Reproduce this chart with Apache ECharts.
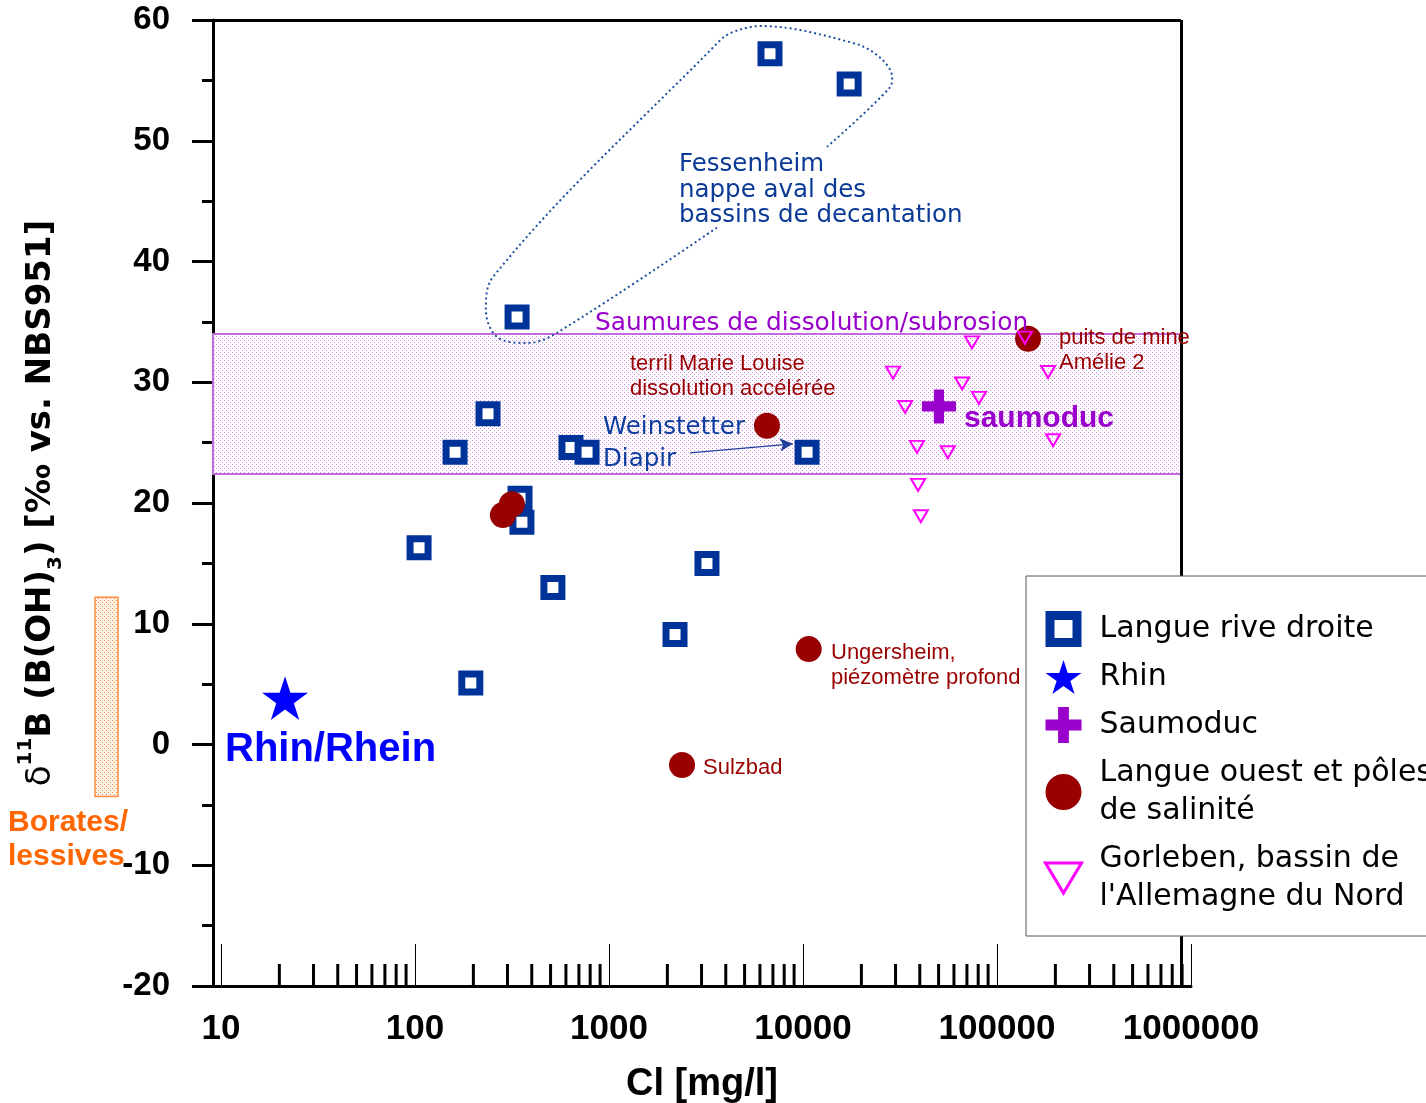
<!DOCTYPE html>
<html>
<head>
<meta charset="utf-8">
<script src="https://cdn.jsdelivr.net/npm/echarts@6/dist/echarts.min.js"></script>
<style>
html, body { margin: 0; padding: 0; background: #fff; }
#chart { width: 1426px; height: 1103px; }
</style>
</head>
<body>
<div id="chart"></div>
<script>
var chart = echarts.init(document.getElementById('chart'));

// data: [Cl mg/l, d11B permil]
var langueRiveDroite = [
    [6760, 57.2], [17300, 54.7], [336, 35.4], [238, 27.4], [161, 24.2],
    [637, 24.6], [771, 24.2], [10500, 24.2], [348, 20.4], [356, 18.4],
    [105, 16.3], [514, 13.0], [3200, 15.0], [2190, 9.1], [194, 5.1]
];
var rhin = [[21.4, 3.85]];
var saumoduc = [[50200, 28.0]];
var langueOuest = [
    [6520, 26.4], [316, 19.9], [284, 19.0], [10700, 7.9], [2380, -1.7], [144600, 33.6]
];
var gorleben = [
    [74300, 33.3], [139300, 33.7], [29100, 30.8], [183300, 30.85], [66100, 29.9],
    [80700, 28.7], [33600, 27.95], [194500, 25.2], [38700, 24.65], [55800, 24.2],
    [39200, 21.5], [40500, 18.9]
];
var saumuresBand = [22.4, 34.0];
var boratesRange = [-4.3, 12.2];
var fessenheimOutline = [
    [3600, 42.8], [540, 34.1], [378, 33.25], [265, 33.75], [232, 36.0], [252, 38.7],
    [3730, 58.3], [4350, 59.0], [6000, 59.5], [18100, 58.1], [24900, 56.9],
    [28800, 55.25], [28000, 54.4], [13300, 49.5]
];
var weinstetterArrow = [[2616, 24.15], [8870, 24.9]];
var xTickLabels = ['10', '100', '1000', '10000', '100000', '1000000'];
var xMin = 9.1, xMax = 1000000, frameRight = 888000;
var yMin = -20, yMax = 60;

var minorTicks = [];
for (var d = 10; d < 1000000; d *= 10) {
    for (var k = 2; k <= 9; k++) minorTicks.push([k * d, yMin]);
}

function dotPattern(bg, dot, step) {
    var c = document.createElement('canvas');
    c.width = step; c.height = step;
    var ctx = c.getContext('2d');
    ctx.fillStyle = bg;
    ctx.fillRect(0, 0, step, step);
    ctx.fillStyle = dot;
    ctx.fillRect(0, 0, 1, 1);
    ctx.fillRect(step / 2, step / 2, 1, 1);
    return c;
}
var bandPattern = dotPattern('#ffffff', '#d98be8', 4);
var boratesPattern = dotPattern('#fff3ea', '#ff8a3d', 4);

var starPath = 'path://M50,0L61.2,34.5L97.6,34.5L68.2,55.9L79.4,90.5L50,69.1L20.6,90.5L31.8,55.9L2.4,34.5L38.8,34.5Z';
var plusPath = 'path://M35,0H65V35H100V65H65V100H35V65H0V35H35Z';
var triPath = 'path://M0,0L36,0L18,30Z';
var framePath = 'path://M0,0H36V36H0Z M9,9V27H27V9Z';

var ARIAL = '"Liberation Sans", Arial, sans-serif';
var VERD = '"DejaVu Sans", Verdana, sans-serif';

function note(text, x, firstY, size, color, family, weight, lh) {
    return {
        type: 'text', x: x, y: firstY + 3 - lh / 2, silent: true, z: 50,
        style: {
            text: text, fill: color, lineHeight: lh,
            font: (weight || 'normal') + ' ' + size + 'px ' + family,
            align: 'left', verticalAlign: 'top'
        }
    };
}

var option = {
    backgroundColor: '#fff',
    animation: false,
    grid: { left: 213, right: 235, top: 20, bottom: 117, containLabel: false, outerBoundsMode: 'none' },
    xAxis: {
        type: 'log', logBase: 10, min: xMin, max: xMax,
        name: 'Cl [mg/l]', nameLocation: 'middle', nameGap: 80,
        nameTextStyle: { fontFamily: ARIAL, fontWeight: 'bold', fontSize: 38, color: '#000' },
        axisLine: { show: true, onZero: false, lineStyle: { color: '#000', width: 3 } },
        axisTick: { show: true, inside: true, length: 42, lineStyle: { color: '#000', width: 1 } },
        minorTick: { show: false },
        splitLine: { show: false },
        axisLabel: {
            margin: 26, color: '#000', fontFamily: ARIAL, fontWeight: 'bold', fontSize: 35,
            formatter: function (v) {
                var lg = Math.log(v) / Math.LN10, r = Math.round(lg);
                return Math.abs(lg - r) < 1e-6 && r >= 1 ? xTickLabels[r - 1] : '';
            }
        }
    },
    yAxis: {
        type: 'value', min: yMin, max: yMax, interval: 10,
        name: '{d|δ}{sup|11}{b|B (B(OH)}{sub|3}{b|) [‰ vs. NBS951]}',
        nameLocation: 'middle', nameRotate: 90, nameGap: 147,
        nameTextStyle: {
            color: '#000',
            rich: {
                d: { fontFamily: VERD, fontSize: 34, lineHeight: 50, color: '#000' },
                b: { fontFamily: VERD, fontWeight: 'bold', fontSize: 34, lineHeight: 50, color: '#000' },
                sup: { fontFamily: VERD, fontWeight: 'bold', fontSize: 20, verticalAlign: 'top', color: '#000' },
                sub: { fontFamily: VERD, fontWeight: 'bold', fontSize: 20, verticalAlign: 'bottom', color: '#000' }
            }
        },
        axisLine: { show: true, onZero: false, lineStyle: { color: '#000', width: 3 } },
        axisTick: { show: true, inside: false, length: 21, lineStyle: { color: '#000', width: 3 } },
        minorTick: { show: true, splitNumber: 2, length: 11, lineStyle: { color: '#000', width: 3 } },
        splitLine: { show: false },
        axisLabel: { margin: 43, color: '#000', fontFamily: ARIAL, fontWeight: 'bold', fontSize: 33 }
    },
    legend: {
        orient: 'vertical', left: 1026, top: 576, z: 100,
        padding: [34, 200, 20, 18],
        itemWidth: 36, itemHeight: 36, itemGap: 10,
        backgroundColor: '#fff', borderColor: '#555', borderWidth: 1,
        selectedMode: false,
        textStyle: { fontFamily: VERD, fontSize: 30, color: '#000', lineHeight: 38, padding: [0, 0, 0, 13] },
        data: [
            { name: 'Langue rive droite', icon: framePath, itemStyle: { color: '#003399', borderWidth: 0 } },
            { name: 'Rhin' },
            { name: 'Saumoduc' },
            { name: 'Langue ouest et pôles\nde salinité' },
            { name: 'Gorleben, bassin de\nl\'Allemagne du Nord', icon: triPath,
              itemStyle: { color: 'rgba(255,255,255,0)', borderColor: '#ff00ff', borderWidth: 3 } }
        ]
    },
    graphic: [
        note('Fessenheim\nnappe aval des\nbassins de decantation', 679, 162, 24.5, '#0a3a96', VERD, 'normal', 25.5),
        note('Saumures de dissolution/subrosion', 595, 321, 24.8, '#9900cc', VERD, 'normal', 28),
        note('terril Marie Louise\ndissolution accélérée', 630, 361, 22, '#990000', ARIAL, 'normal', 25),
        note('Weinstetter\nDiapir', 603, 425, 24.5, '#0d3d9e', VERD, 'normal', 32),
        note('saumoduc', 964, 416, 30, '#9900cc', ARIAL, 'bold', 34),
        note('puits de mine\nAmélie 2', 1059, 335, 22, '#990000', ARIAL, 'normal', 25),
        note('Ungersheim,\npiézomètre profond', 831, 650, 22, '#990000', ARIAL, 'normal', 25),
        note('Sulzbad', 703, 765, 22, '#990000', ARIAL, 'normal', 25),
        note('Rhin/Rhein', 225, 747, 40, '#0000ff', ARIAL, 'bold', 44),
        note('Borates/\nlessives', 8, 820, 30, '#ff6600', ARIAL, 'bold', 34)
    ],
    series: [
        {
            // frame, saturated-brine band
            type: 'scatter', name: 'frame', data: [], clip: false, silent: true, z: 1,
            markArea: {
                silent: true,
                itemStyle: { color: { image: bandPattern, repeat: 'repeat' }, borderColor: '#c46ae0', borderWidth: 2 },
                data: [[{ coord: [xMin, saumuresBand[1]] }, { coord: [frameRight, saumuresBand[0]] }]]
            },
            markLine: {
                silent: true, symbol: 'none', label: { show: false },
                lineStyle: { color: '#000', width: 3, type: 'solid' },
                data: [
                    [{ coord: [xMin, yMax] }, { coord: [frameRight, yMax] }],
                    [{ coord: [frameRight, yMax] }, { coord: [frameRight, yMin] }]
                ]
            }
        },
        {
            type: 'line', name: 'arrow', data: [], clip: false, silent: true, z: 4,
            markLine: {
                silent: true, symbol: ['none', 'arrow'], symbolSize: [10, 13], label: { show: false },
                lineStyle: { color: '#1f3f9a', width: 1.2, type: 'solid' },
                data: [[{ coord: weinstetterArrow[0] }, { coord: weinstetterArrow[1] }]]
            }
        },
        {
            type: 'line', name: 'outline', data: fessenheimOutline, smooth: 0.35,
            symbol: 'none', silent: true, clip: false, z: 3,
            lineStyle: { color: '#1d4f9e', width: 2, type: [2, 3] }
        },
        {
            type: 'custom', name: 'minorTicks', data: minorTicks, silent: true, clip: false, z: 5,
            renderItem: function (params, api) {
                var p = api.coord([api.value(0), api.value(1)]);
                return {
                    type: 'line',
                    shape: { x1: p[0], y1: p[1], x2: p[0], y2: p[1] - 22 },
                    style: { stroke: '#000', lineWidth: 3 }
                };
            }
        },
        {
            type: 'custom', name: 'borates', data: [[1, boratesRange[0], boratesRange[1]]],
            encode: { x: 0, y: [1, 2] }, silent: true, clip: false, z: 2,
            renderItem: function (params, api) {
                var lo = api.coord([10, api.value(1)]);
                var hi = api.coord([10, api.value(2)]);
                return {
                    type: 'rect',
                    shape: { x: params.coordSys.x - 118, y: hi[1], width: 23, height: lo[1] - hi[1] },
                    style: { fill: { image: boratesPattern, repeat: 'repeat' }, stroke: '#ff8c40', lineWidth: 1.5 }
                };
            }
        },
        {
            type: 'scatter', name: 'Langue rive droite', data: langueRiveDroite, z: 10,
            symbol: 'rect', symbolSize: 18,
            itemStyle: { color: '#fff', borderColor: '#003399', borderWidth: 7, opacity: 1 }
        },
        {
            type: 'scatter', name: 'Rhin', data: rhin, z: 10,
            symbol: starPath, symbolSize: 46, symbolKeepAspect: true,
            itemStyle: { color: '#0000ff', opacity: 1 }
        },
        {
            type: 'scatter', name: 'Saumoduc', data: saumoduc, z: 10,
            symbol: plusPath, symbolSize: 34,
            itemStyle: { color: '#9900cc', opacity: 1 }
        },
        {
            type: 'scatter', name: 'Langue ouest et pôles\nde salinité', data: langueOuest, z: 10,
            symbol: 'circle', symbolSize: 26,
            itemStyle: { color: '#990000', opacity: 1 }
        },
        {
            type: 'scatter', name: 'Gorleben, bassin de\nl\'Allemagne du Nord', data: gorleben, z: 11,
            symbol: triPath, symbolSize: [14, 12],
            itemStyle: { color: 'rgba(255,255,255,0)', borderColor: '#ff00ff', borderWidth: 2, opacity: 1 }
        }
    ]
};
chart.setOption(option);
</script>
</body>
</html>
